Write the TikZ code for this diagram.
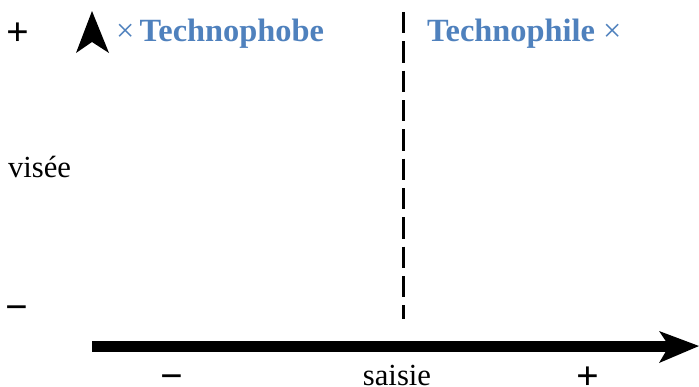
\documentclass[tikz,border=0pt]{standalone}
\usepackage{fontspec}
\setmainfont{Liberation Serif}
\definecolor{techblue}{RGB}{79,129,189}
\begin{document}
\begin{tikzpicture}[x=0.75pt,y=-0.75pt,
  lbl/.style={inner sep=0pt,outer sep=0pt,font=\fontsize{23}{26}\selectfont},
  sign/.style={inner sep=0pt,outer sep=0pt,text depth=0pt,font=\fontsize{30}{32}\selectfont\bfseries},
  group/.style={inner sep=0pt,outer sep=0pt,text=techblue,font=\fontsize{24.3}{26}\selectfont\bfseries},
  axis/.style={line width=8.25pt},
  tiphead/.style={fill=black,draw=none},
  divider/.style={line width=2.25pt,dash pattern=on 16.1pt off 5.9pt}]
\useasboundingbox (0,0) rectangle (699,386);

% horizontal axis: saisie
\coordinate (hs) at (92,346);
\coordinate (hn) at (669,346);
\coordinate (ht) at (699,346);
\draw[axis] (hs) -- (hn);
\fill[tiphead] (ht) -- (659,331) -- (hn) -- (659,363) -- cycle;

% vertical axis: only its head is drawn
\coordinate (vt) at (92,11);
\coordinate (vn) at (92,42);
\fill[tiphead] (vt) -- (109,53) -- (vn) -- (76,53) -- cycle;

% dashed separation between the two groups
\coordinate (dtop) at (403,12);
\coordinate (dbot) at (403,319);
\draw[divider] (dtop) -- (dbot);

% axis labels
\node[lbl,anchor=base west] (visee) at (8,177) {visée};
\node[lbl,anchor=base,text depth=0pt] (saisie) at (397,385.5) {saisie};
\node[sign,anchor=base] (yplus) at (18,45) {+};
\node[sign,anchor=base] (yminus) at (16.5,320.5) {−};
\node[sign,anchor=base] (xminus) at (172,389.5) {−};
\node[sign,anchor=base] (xplus) at (588,389.5) {+};

% groups
\node[group,anchor=base east] (phobe) at (324,41) {{\mdseries ×}\hspace{4pt}Technophobe};
\node[group,anchor=base west] (phile) at (427,41) {Technophile\hspace{6pt}{\mdseries ×}};
\end{tikzpicture}
\end{document}
